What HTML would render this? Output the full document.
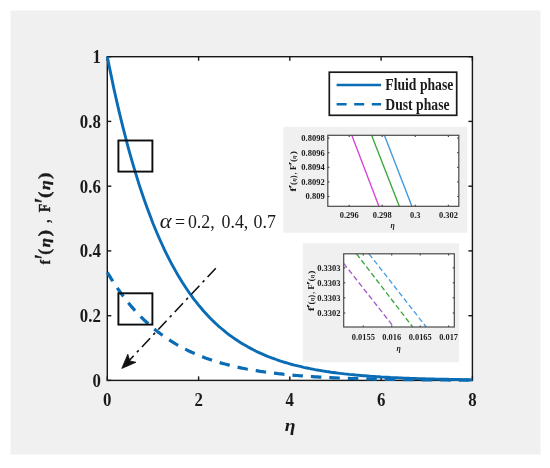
<!DOCTYPE html>
<html><head><meta charset="utf-8"><title>Velocity profile</title>
<style>
html,body{margin:0;padding:0;background:#fff;}
body{width:550px;height:468px;overflow:hidden;}
svg{display:block;filter:blur(0.4px);}
text{font-family:"Liberation Serif","DejaVu Serif",serif;fill:#1a1a1a;}
.b{font-weight:bold;}
</style></head><body>
<svg width="550" height="468" viewBox="0 0 550 468">
<rect x="0" y="0" width="550" height="468" fill="#ffffff"/>
<rect x="10.5" y="10.5" width="530" height="444" fill="#f0f0f0"/>
<rect x="107.3" y="56.7" width="365.1" height="323.7" fill="#ffffff"/>
<!-- inset backgrounds -->
<rect x="283.3" y="126.8" width="183.9" height="106" fill="#f0f0f0"/>
<rect x="302.8" y="243.2" width="156.2" height="119" fill="#f0f0f0"/>
<rect x="327.8" y="135.3" width="131.0" height="71.0" fill="#fff"/>
<rect x="343.7" y="253.8" width="110.6" height="73.2" fill="#fff"/>
<!-- inset 1 lines -->
<g fill="none" stroke-width="1.35">
<line x1="351.8" y1="135.3" x2="378.9" y2="206.3" stroke="#d840d8"/>
<line x1="371.6" y1="135.3" x2="399.3" y2="206.3" stroke="#3aa83a"/>
<line x1="384.4" y1="135.3" x2="411.9" y2="206.3" stroke="#3a98e0"/>
</g>
<!-- inset 2 lines -->
<g fill="none" stroke-width="1.35" stroke-dasharray="5.3 2.8">
<line x1="343.7" y1="263.4" x2="393.8" y2="327" stroke="#a45cc8"/>
<line x1="356.5" y1="253.8" x2="412.7" y2="327" stroke="#3aa83a"/>
<line x1="369" y1="253.8" x2="426.2" y2="327" stroke="#4aa0e4"/>
</g>
<!-- inset axes -->
<g fill="none" stroke="#4a4a4a" stroke-width="1.2">
<rect x="327.8" y="135.3" width="131.0" height="71.0"/>
<rect x="343.7" y="253.8" width="110.6" height="73.2"/>
<line x1="349.2" y1="206.3" x2="349.2" y2="204.70000000000002"/><line x1="349.2" y1="135.3" x2="349.2" y2="136.9"/><line x1="382.2" y1="206.3" x2="382.2" y2="204.70000000000002"/><line x1="382.2" y1="135.3" x2="382.2" y2="136.9"/><line x1="415.3" y1="206.3" x2="415.3" y2="204.70000000000002"/><line x1="415.3" y1="135.3" x2="415.3" y2="136.9"/><line x1="448.4" y1="206.3" x2="448.4" y2="204.70000000000002"/><line x1="448.4" y1="135.3" x2="448.4" y2="136.9"/><line x1="327.8" y1="138.1" x2="329.40000000000003" y2="138.1"/><line x1="458.8" y1="138.1" x2="457.2" y2="138.1"/><line x1="327.8" y1="152.7" x2="329.40000000000003" y2="152.7"/><line x1="458.8" y1="152.7" x2="457.2" y2="152.7"/><line x1="327.8" y1="167.3" x2="329.40000000000003" y2="167.3"/><line x1="458.8" y1="167.3" x2="457.2" y2="167.3"/><line x1="327.8" y1="181.9" x2="329.40000000000003" y2="181.9"/><line x1="458.8" y1="181.9" x2="457.2" y2="181.9"/><line x1="327.8" y1="196.5" x2="329.40000000000003" y2="196.5"/><line x1="458.8" y1="196.5" x2="457.2" y2="196.5"/>
<line x1="363.3" y1="327.0" x2="363.3" y2="325.4"/><line x1="363.3" y1="253.8" x2="363.3" y2="255.4"/><line x1="391.7" y1="327.0" x2="391.7" y2="325.4"/><line x1="391.7" y1="253.8" x2="391.7" y2="255.4"/><line x1="420.2" y1="327.0" x2="420.2" y2="325.4"/><line x1="420.2" y1="253.8" x2="420.2" y2="255.4"/><line x1="448.6" y1="327.0" x2="448.6" y2="325.4"/><line x1="448.6" y1="253.8" x2="448.6" y2="255.4"/><line x1="343.7" y1="267.8" x2="345.3" y2="267.8"/><line x1="454.3" y1="267.8" x2="452.7" y2="267.8"/><line x1="343.7" y1="282.8" x2="345.3" y2="282.8"/><line x1="454.3" y1="282.8" x2="452.7" y2="282.8"/><line x1="343.7" y1="297.8" x2="345.3" y2="297.8"/><line x1="454.3" y1="297.8" x2="452.7" y2="297.8"/><line x1="343.7" y1="313.0" x2="345.3" y2="313.0"/><line x1="454.3" y1="313.0" x2="452.7" y2="313.0"/>
</g>
<!-- main axes -->
<g fill="none" stroke="#161616" stroke-width="1.4">
<rect x="107.3" y="56.7" width="365.1" height="323.7"/>
<line x1="107.3" y1="380.4" x2="107.3" y2="376.4"/>
<line x1="107.3" y1="56.7" x2="107.3" y2="60.7"/>
<line x1="198.6" y1="380.4" x2="198.6" y2="376.4"/>
<line x1="198.6" y1="56.7" x2="198.6" y2="60.7"/>
<line x1="289.8" y1="380.4" x2="289.8" y2="376.4"/>
<line x1="289.8" y1="56.7" x2="289.8" y2="60.7"/>
<line x1="381.1" y1="380.4" x2="381.1" y2="376.4"/>
<line x1="381.1" y1="56.7" x2="381.1" y2="60.7"/>
<line x1="472.4" y1="380.4" x2="472.4" y2="376.4"/>
<line x1="472.4" y1="56.7" x2="472.4" y2="60.7"/>
<line x1="107.3" y1="380.4" x2="111.3" y2="380.4"/>
<line x1="472.4" y1="380.4" x2="468.4" y2="380.4"/>
<line x1="107.3" y1="315.7" x2="111.3" y2="315.7"/>
<line x1="472.4" y1="315.7" x2="468.4" y2="315.7"/>
<line x1="107.3" y1="250.9" x2="111.3" y2="250.9"/>
<line x1="472.4" y1="250.9" x2="468.4" y2="250.9"/>
<line x1="107.3" y1="186.2" x2="111.3" y2="186.2"/>
<line x1="472.4" y1="186.2" x2="468.4" y2="186.2"/>
<line x1="107.3" y1="121.4" x2="111.3" y2="121.4"/>
<line x1="472.4" y1="121.4" x2="468.4" y2="121.4"/>
<line x1="107.3" y1="56.7" x2="111.3" y2="56.7"/>
<line x1="472.4" y1="56.7" x2="468.4" y2="56.7"/>
</g>
<!-- main curves -->
<g fill="none" stroke="#0a6cb4" stroke-linejoin="round">
<path d="M107.3 56.7 L109.6 68.1 L111.9 79.1 L114.1 89.7 L116.4 99.9 L118.7 109.8 L121.0 119.4 L123.3 128.6 L125.6 137.5 L127.8 146.1 L130.1 154.4 L132.4 162.4 L134.7 170.2 L137.0 177.6 L139.2 184.8 L141.5 191.8 L143.8 198.5 L146.1 205.0 L148.4 211.3 L150.7 217.3 L152.9 223.2 L155.2 228.8 L157.5 234.2 L159.8 239.5 L162.1 244.5 L164.3 249.4 L166.6 254.1 L168.9 258.7 L171.2 263.1 L173.5 267.3 L175.8 271.4 L178.0 275.3 L180.3 279.1 L182.6 282.8 L184.9 286.3 L187.2 289.7 L189.4 293.0 L191.7 296.2 L194.0 299.3 L196.3 302.2 L198.6 305.1 L200.9 307.8 L203.1 310.5 L205.4 313.0 L207.7 315.5 L210.0 317.9 L212.3 320.2 L214.5 322.4 L216.8 324.5 L219.1 326.6 L221.4 328.5 L223.7 330.4 L226.0 332.3 L228.2 334.1 L230.5 335.8 L232.8 337.4 L235.1 339.0 L237.4 340.5 L239.6 342.0 L241.9 343.4 L244.2 344.8 L246.5 346.1 L248.8 347.4 L251.1 348.6 L253.3 349.8 L255.6 351.0 L257.9 352.1 L260.2 353.1 L262.5 354.1 L264.7 355.1 L267.0 356.1 L269.3 357.0 L271.6 357.9 L273.9 358.7 L276.2 359.5 L278.4 360.3 L280.7 361.1 L283.0 361.8 L285.3 362.5 L287.6 363.2 L289.8 363.8 L292.1 364.5 L294.4 365.1 L296.7 365.6 L299.0 366.2 L301.3 366.7 L303.5 367.3 L305.8 367.8 L308.1 368.2 L310.4 368.7 L312.7 369.1 L315.0 369.6 L317.2 370.0 L319.5 370.4 L321.8 370.8 L324.1 371.1 L326.4 371.5 L328.6 371.8 L330.9 372.2 L333.2 372.5 L335.5 372.8 L337.8 373.1 L340.1 373.4 L342.3 373.6 L344.6 373.9 L346.9 374.1 L349.2 374.4 L351.5 374.6 L353.7 374.8 L356.0 375.1 L358.3 375.3 L360.6 375.5 L362.9 375.7 L365.2 375.8 L367.4 376.0 L369.7 376.2 L372.0 376.4 L374.3 376.5 L376.6 376.7 L378.8 376.8 L381.1 377.0 L383.4 377.1 L385.7 377.2 L388.0 377.3 L390.3 377.5 L392.5 377.6 L394.8 377.7 L397.1 377.8 L399.4 377.9 L401.7 378.0 L403.9 378.1 L406.2 378.2 L408.5 378.3 L410.8 378.4 L413.1 378.4 L415.4 378.5 L417.6 378.6 L419.9 378.7 L422.2 378.7 L424.5 378.8 L426.8 378.9 L429.0 378.9 L431.3 379.0 L433.6 379.0 L435.9 379.1 L438.2 379.1 L440.5 379.2 L442.7 379.2 L445.0 379.3 L447.3 379.3 L449.6 379.4 L451.9 379.4 L454.1 379.5 L456.4 379.5 L458.7 379.5 L461.0 379.6 L463.3 379.6 L465.6 379.6 L467.8 379.7 L470.1 379.7 L472.4 379.7" stroke-width="2.9"/>
<path d="M107.3 272.3 L109.6 276.1 L111.9 279.8 L114.1 283.3 L116.4 286.7 L118.7 290.0 L121.0 293.2 L123.3 296.3 L125.6 299.3 L127.8 302.1 L130.1 304.9 L132.4 307.6 L134.7 310.2 L137.0 312.7 L139.2 315.1 L141.5 317.4 L143.8 319.7 L146.1 321.8 L148.4 323.9 L150.7 325.9 L152.9 327.9 L155.2 329.8 L157.5 331.6 L159.8 333.3 L162.1 335.0 L164.3 336.6 L166.6 338.2 L168.9 339.7 L171.2 341.2 L173.5 342.6 L175.8 344.0 L178.0 345.3 L180.3 346.6 L182.6 347.8 L184.9 349.0 L187.2 350.1 L189.4 351.2 L191.7 352.3 L194.0 353.3 L196.3 354.3 L198.6 355.2 L200.9 356.2 L203.1 357.0 L205.4 357.9 L207.7 358.7 L210.0 359.5 L212.3 360.3 L214.5 361.0 L216.8 361.7 L219.1 362.4 L221.4 363.1 L223.7 363.7 L226.0 364.3 L228.2 364.9 L230.5 365.5 L232.8 366.0 L235.1 366.6 L237.4 367.1 L239.6 367.6 L241.9 368.1 L244.2 368.5 L246.5 369.0 L248.8 369.4 L251.1 369.8 L253.3 370.2 L255.6 370.6 L257.9 370.9 L260.2 371.3 L262.5 371.6 L264.7 372.0 L267.0 372.3 L269.3 372.6 L271.6 372.9 L273.9 373.2 L276.2 373.4 L278.4 373.7 L280.7 373.9 L283.0 374.2 L285.3 374.4 L287.6 374.6 L289.8 374.9 L292.1 375.1 L294.4 375.3 L296.7 375.5 L299.0 375.7 L301.3 375.8 L303.5 376.0 L305.8 376.2 L308.1 376.3 L310.4 376.5 L312.7 376.6 L315.0 376.8 L317.2 376.9 L319.5 377.1 L321.8 377.2 L324.1 377.3 L326.4 377.4 L328.6 377.5 L330.9 377.6 L333.2 377.8 L335.5 377.9 L337.8 378.0 L340.1 378.0 L342.3 378.1 L344.6 378.2 L346.9 378.3 L349.2 378.4 L351.5 378.5 L353.7 378.5 L356.0 378.6 L358.3 378.7 L360.6 378.8 L362.9 378.8 L365.2 378.9 L367.4 378.9 L369.7 379.0 L372.0 379.0 L374.3 379.1 L376.6 379.2 L378.8 379.2 L381.1 379.2 L383.4 379.3 L385.7 379.3 L388.0 379.4 L390.3 379.4 L392.5 379.5 L394.8 379.5 L397.1 379.5 L399.4 379.6 L401.7 379.6 L403.9 379.6 L406.2 379.7 L408.5 379.7 L410.8 379.7 L413.1 379.7 L415.4 379.8 L417.6 379.8 L419.9 379.8 L422.2 379.8 L424.5 379.9 L426.8 379.9 L429.0 379.9 L431.3 379.9 L433.6 379.9 L435.9 380.0 L438.2 380.0 L440.5 380.0 L442.7 380.0 L445.0 380.0 L447.3 380.0 L449.6 380.1 L451.9 380.1 L454.1 380.1 L456.4 380.1 L458.7 380.1 L461.0 380.1 L463.3 380.1 L465.6 380.1 L467.8 380.2 L470.1 380.2 L472.4 380.2" stroke-width="3.2" stroke-dasharray="10.5 8"/>
</g>
<!-- zoom rectangles -->
<g fill="none" stroke="#0c0c0c" stroke-width="1.9">
<rect x="118.4" y="140.5" width="34" height="31.1"/>
<rect x="118.4" y="293.3" width="34" height="31.3"/>
</g>
<!-- arrow -->
<line x1="215.8" y1="268.2" x2="128" y2="361.8" stroke="#111" stroke-width="1.6" stroke-dasharray="12 4.7 2.6 4.7" fill="none"/>
<path d="M121.8 368.4 L127.8 354.2 L129.8 360.9 L136 362.3 Z" fill="#111" stroke="#111" stroke-width="0.8" stroke-linejoin="round"/>
<!-- legend -->
<rect x="329.3" y="72.2" width="127.4" height="43.1" fill="#fff" stroke="#1a1a1a" stroke-width="1.7"/>
<line x1="336.6" y1="85" x2="381.1" y2="85" stroke="#0a6cb4" stroke-width="2.4"/>
<line x1="336.6" y1="104.2" x2="381.1" y2="104.2" stroke="#0a6cb4" stroke-width="2.6" stroke-dasharray="10 7.6"/>
<g class="b" font-size="16.4">
<text transform="translate(385.3 90.4) scale(0.835 1)">Fluid phase</text>
<text transform="translate(385.3 109.6) scale(0.835 1)">Dust phase</text>
</g>
<!-- tick labels -->
<g class="b" font-size="18.5"><text transform="translate(107.3 405.8) scale(0.91 1)" text-anchor="middle">0</text><text transform="translate(198.6 405.8) scale(0.91 1)" text-anchor="middle">2</text><text transform="translate(289.8 405.8) scale(0.91 1)" text-anchor="middle">4</text><text transform="translate(381.1 405.8) scale(0.91 1)" text-anchor="middle">6</text><text transform="translate(472.4 405.8) scale(0.91 1)" text-anchor="middle">8</text><text transform="translate(100.8 386.8) scale(0.91 1)" text-anchor="end">0</text><text transform="translate(100.8 322.1) scale(0.91 1)" text-anchor="end">0.2</text><text transform="translate(100.8 257.3) scale(0.91 1)" text-anchor="end">0.4</text><text transform="translate(100.8 192.6) scale(0.91 1)" text-anchor="end">0.6</text><text transform="translate(100.8 127.8) scale(0.91 1)" text-anchor="end">0.8</text><text transform="translate(100.8 63.1) scale(0.91 1)" text-anchor="end">1</text></g>
<!-- axis labels -->
<text transform="translate(290.2 430.6) scale(1.12 1)" text-anchor="middle" font-size="17.5" font-style="italic" font-weight="bold">η</text>
<g transform="translate(50.3 264.6) rotate(-90)" stroke="#1a1a1a" stroke-width="0.35"><text transform="translate(0.31 0.00) scale(0.828 1)" font-size="15.50" font-weight="bold">f</text><text transform="translate(5.20 2.70) scale(0.676 1)" font-size="27.00" font-weight="bold" font-style="italic">′</text><text transform="translate(9.83 0.00) scale(1.085 1)" font-size="16.20" font-weight="bold">(</text><text transform="translate(17.25 0.00) scale(1.149 1)" font-size="14.60" font-weight="bold" font-style="italic">η</text><text transform="translate(28.16 0.00) scale(1.230 1)" font-size="16.20" font-weight="bold">)</text><text transform="translate(41.74 0.00) scale(0.779 1)" font-size="16.20" font-weight="bold">,</text><text transform="translate(52.37 0.00) scale(0.834 1)" font-size="16.50" font-weight="bold">F</text><text transform="translate(60.72 2.70) scale(0.851 1)" font-size="27.00" font-weight="bold" font-style="italic">′</text><text transform="translate(66.54 0.00) scale(1.206 1)" font-size="16.20" font-weight="bold">(</text><text transform="translate(74.63 0.00) scale(1.220 1)" font-size="14.60" font-weight="bold" font-style="italic">η</text><text transform="translate(85.58 0.00) scale(1.206 1)" font-size="16.20" font-weight="bold">)</text></g>
<!-- alpha annotation -->
<g font-size="19.2">
<text transform="translate(159.8 228.4) scale(1.1 1)" font-size="20.5" font-style="italic">α</text>
<text transform="translate(174.9 228.4) scale(0.93 1)">=</text>
<text transform="translate(187.9 228.4) scale(0.93 1)">0.2,</text>
<text transform="translate(221.5 228.4) scale(0.93 1)">0.4,</text>
<text transform="translate(253.5 228.4) scale(0.93 1)">0.7</text>
</g>
<!-- inset labels -->
<g class="b" fill="#222"><text transform="translate(324.7 140.9) scale(1.0 1)" text-anchor="end" font-size="8.5">0.8098</text><text transform="translate(324.7 155.5) scale(1.0 1)" text-anchor="end" font-size="8.5">0.8096</text><text transform="translate(324.7 170.1) scale(1.0 1)" text-anchor="end" font-size="8.5">0.8094</text><text transform="translate(324.7 184.7) scale(1.0 1)" text-anchor="end" font-size="8.5">0.8092</text><text transform="translate(324.7 199.3) scale(1.0 1)" text-anchor="end" font-size="8.5">0.809</text><text transform="translate(349.2 218.1) scale(1.0 1)" text-anchor="middle" font-size="8.4">0.296</text><text transform="translate(382.2 218.1) scale(1.0 1)" text-anchor="middle" font-size="8.4">0.298</text><text transform="translate(415.3 218.1) scale(1.0 1)" text-anchor="middle" font-size="8.4">0.3</text><text transform="translate(448.4 218.1) scale(1.0 1)" text-anchor="middle" font-size="8.4">0.302</text><text transform="translate(340.6 270.6) scale(1.0 1)" text-anchor="end" font-size="8.5">0.3303</text><text transform="translate(340.6 285.6) scale(1.0 1)" text-anchor="end" font-size="8.5">0.3303</text><text transform="translate(340.6 300.6) scale(1.0 1)" text-anchor="end" font-size="8.5">0.3303</text><text transform="translate(340.6 315.8) scale(1.0 1)" text-anchor="end" font-size="8.5">0.3302</text><text transform="translate(363.3 340.0) scale(1.0 1)" text-anchor="middle" font-size="8.4">0.0155</text><text transform="translate(391.7 340.0) scale(1.0 1)" text-anchor="middle" font-size="8.4">0.016</text><text transform="translate(420.2 340.0) scale(1.0 1)" text-anchor="middle" font-size="8.4">0.0165</text><text transform="translate(448.6 340.0) scale(1.0 1)" text-anchor="middle" font-size="8.4">0.017</text></g>
<text x="392.6" y="227.6" text-anchor="middle" font-size="7.8" font-style="italic" font-weight="bold">η</text>
<text x="398.6" y="350.8" text-anchor="middle" font-size="7.8" font-style="italic" font-weight="bold">η</text>
<g transform="translate(295.8 191.9) rotate(-90)" stroke="#1a1a1a" stroke-width="0"><text transform="translate(0.16 0.00) scale(1.391 1)" font-size="8.80" font-weight="bold">f</text><text transform="translate(2.86 0.00) scale(1.536 1)" font-size="11.00" font-weight="bold" font-style="italic">′</text><text transform="translate(6.85 0.00) scale(1.152 1)" font-size="7.80" font-weight="bold">(</text><text transform="translate(10.42 0.00) scale(0.858 1)" font-size="7.00" font-weight="bold" font-style="italic">η</text><text transform="translate(13.90 0.00) scale(1.002 1)" font-size="7.80" font-weight="bold">)</text><text transform="translate(17.56 0.00) scale(0.821 1)" font-size="8.00" font-weight="bold">,</text><text transform="translate(21.90 0.00) scale(0.980 1)" font-size="8.80" font-weight="bold">F</text><text transform="translate(25.86 0.00) scale(1.536 1)" font-size="11.00" font-weight="bold" font-style="italic">′</text><text transform="translate(29.84 0.00) scale(1.202 1)" font-size="7.80" font-weight="bold">(</text><text transform="translate(33.22 0.00) scale(0.858 1)" font-size="7.00" font-weight="bold" font-style="italic">η</text><text transform="translate(37.31 0.00) scale(1.352 1)" font-size="7.80" font-weight="bold">)</text></g>
<g transform="translate(313.5 311.3) rotate(-90)" stroke="#1a1a1a" stroke-width="0"><text transform="translate(0.16 0.00) scale(1.391 1)" font-size="8.80" font-weight="bold">f</text><text transform="translate(2.86 0.00) scale(1.536 1)" font-size="11.00" font-weight="bold" font-style="italic">′</text><text transform="translate(6.85 0.00) scale(1.152 1)" font-size="7.80" font-weight="bold">(</text><text transform="translate(10.42 0.00) scale(0.858 1)" font-size="7.00" font-weight="bold" font-style="italic">η</text><text transform="translate(13.90 0.00) scale(1.002 1)" font-size="7.80" font-weight="bold">)</text><text transform="translate(17.56 0.00) scale(0.821 1)" font-size="8.00" font-weight="bold">,</text><text transform="translate(21.90 0.00) scale(0.980 1)" font-size="8.80" font-weight="bold">F</text><text transform="translate(25.86 0.00) scale(1.536 1)" font-size="11.00" font-weight="bold" font-style="italic">′</text><text transform="translate(29.84 0.00) scale(1.202 1)" font-size="7.80" font-weight="bold">(</text><text transform="translate(33.22 0.00) scale(0.858 1)" font-size="7.00" font-weight="bold" font-style="italic">η</text><text transform="translate(37.31 0.00) scale(1.352 1)" font-size="7.80" font-weight="bold">)</text></g>
</svg>
</body></html>
